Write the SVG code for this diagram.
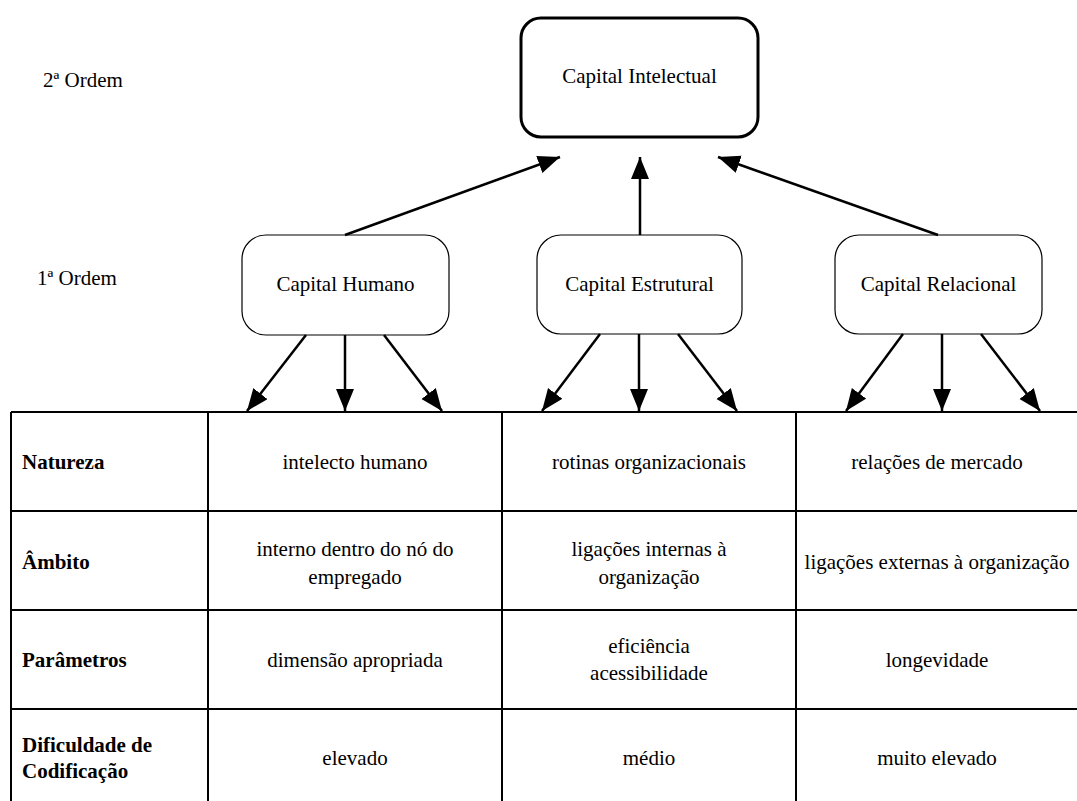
<svg xmlns="http://www.w3.org/2000/svg" width="1077" height="801" viewBox="0 0 1077 801">
  <style>
    text { font-family: "Liberation Serif", "Times New Roman", serif; font-size: 21px; fill: #000; }
    .c { text-anchor: middle; }
    .b { font-weight: bold; }
    .top { fill: #fff; stroke: #000; stroke-width: 3; }
    .box { fill: #fff; stroke: #000; stroke-width: 1.2; }
    .edge { stroke: #000; stroke-width: 2.5; fill: none; marker-end: url(#head); }
    .grid { stroke: #000; stroke-width: 2; fill: none; }
  </style>
  <defs>
    <marker id="head" markerUnits="userSpaceOnUse" markerWidth="24" markerHeight="20" refX="22" refY="9" orient="auto">
      <path d="M0,0 L22,9 L0,18 z" fill="#000"/>
    </marker>
  </defs>

  <!-- level labels -->
  <g id="levels">
    <text x="43" y="87">2ª Ordem</text>
    <text x="37" y="285">1ª Ordem</text>
  </g>

  <!-- second-order node -->
  <g id="capital-intelectual">
    <rect class="top" x="521" y="18" width="237" height="119" rx="20"/>
    <text class="c" x="639.5" y="83">Capital Intelectual</text>
  </g>

  <!-- first-order nodes -->
  <g id="capital-humano">
    <rect class="box" x="242" y="235" width="207" height="100" rx="24"/>
    <text class="c" x="345.5" y="291">Capital Humano</text>
  </g>
  <g id="capital-estrutural">
    <rect class="box" x="537" y="235" width="205" height="99" rx="24"/>
    <text class="c" x="639.5" y="291">Capital Estrutural</text>
  </g>
  <g id="capital-relacional">
    <rect class="box" x="835" y="235" width="207" height="99" rx="24"/>
    <text class="c" x="938.5" y="291">Capital Relacional</text>
  </g>

  <!-- connectors -->
  <g id="connectors">
    <line class="edge" x1="345" y1="235" x2="560" y2="157"/>
    <line class="edge" x1="640" y1="235" x2="640" y2="157"/>
    <line class="edge" x1="938" y1="235" x2="718" y2="157"/>

    <line class="edge" x1="306" y1="335" x2="247" y2="411"/>
    <line class="edge" x1="345" y1="335" x2="345" y2="411"/>
    <line class="edge" x1="384" y1="335" x2="442" y2="411"/>

    <line class="edge" x1="600" y1="334" x2="542" y2="411"/>
    <line class="edge" x1="639" y1="334" x2="639" y2="411"/>
    <line class="edge" x1="678" y1="334" x2="737" y2="411"/>

    <line class="edge" x1="903" y1="334" x2="846" y2="411"/>
    <line class="edge" x1="942" y1="334" x2="942" y2="411"/>
    <line class="edge" x1="981" y1="334" x2="1040" y2="411"/>
  </g>

  <!-- attribute table -->
  <g id="table">
    <path class="grid" d="M11,412 H1077 M11,511 H1077 M11,610 H1077 M11,709 H1077 M11,412 V801 M208,412 V801 M502,412 V801 M796,412 V801"/>

    <text class="b" x="22" y="469">Natureza</text>
    <text class="c" x="355" y="469">intelecto humano</text>
    <text class="c" x="649" y="469">rotinas organizacionais</text>
    <text class="c" x="937" y="469">relações de mercado</text>

    <text class="b" x="22" y="569">Âmbito</text>
    <text class="c" x="355" y="556">interno dentro do nó do</text>
    <text class="c" x="355" y="584">empregado</text>
    <text class="c" x="649" y="556">ligações internas à</text>
    <text class="c" x="649" y="584">organização</text>
    <text class="c" x="937" y="569">ligações externas à organização</text>

    <text class="b" x="22" y="667">Parâmetros</text>
    <text class="c" x="355" y="667">dimensão apropriada</text>
    <text class="c" x="649" y="653">eficiência</text>
    <text class="c" x="649" y="680">acessibilidade</text>
    <text class="c" x="937" y="667">longevidade</text>

    <text class="b" x="22" y="752">Dificuldade de</text>
    <text class="b" x="22" y="778">Codificação</text>
    <text class="c" x="355" y="765">elevado</text>
    <text class="c" x="649" y="765">médio</text>
    <text class="c" x="937" y="765">muito elevado</text>
  </g>
</svg>
